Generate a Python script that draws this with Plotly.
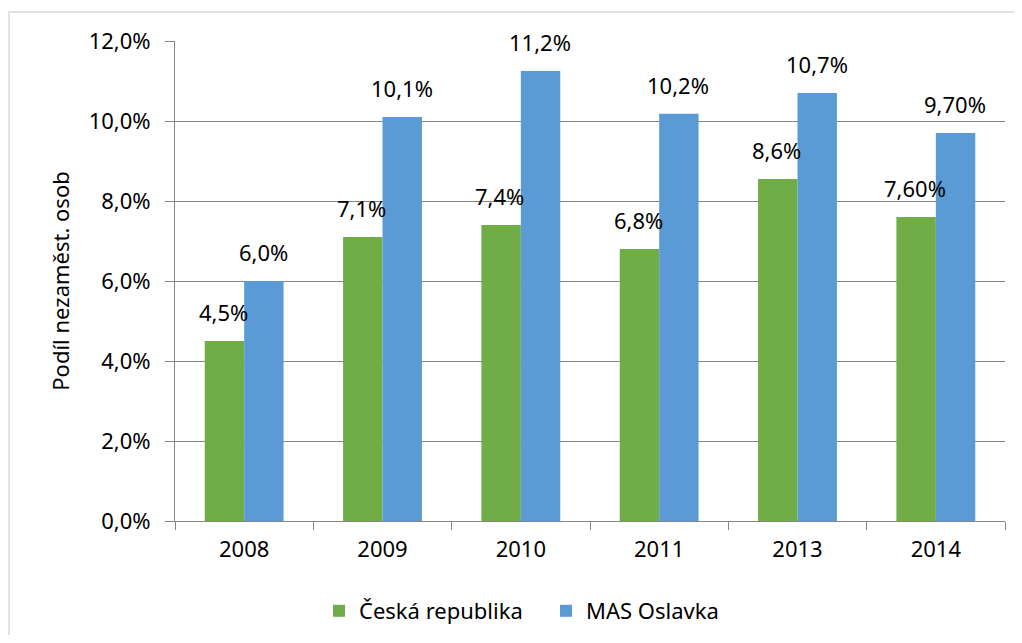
import plotly.graph_objects as go

years = ["2008", "2009", "2010", "2011", "2013", "2014"]
cr_values = [4.5, 7.1, 7.4, 6.8, 8.55, 7.6]
mas_values = [6.0, 10.1, 11.25, 10.18, 10.7, 9.7]
cr_labels = ["4,5%", "7,1%", "7,4%", "6,8%", "8,6%", "7,60%"]
mas_labels = ["6,0%", "10,1%", "11,2%", "10,2%", "10,7%", "9,70%"]
y_ticks = [0, 2, 4, 6, 8, 10, 12]
y_tick_text = ["0,0%", "2,0%", "4,0%", "6,0%", "8,0%", "10,0%", "12,0%"]

FONT = "Noto Sans, Open Sans, sans-serif"
GREEN = "#70AD47"
BLUE = "#5B9BD5"
FS = 22

fig = go.Figure()
fig.add_trace(go.Bar(x=years, y=cr_values, name="Česká republika",
                     marker=dict(color=GREEN, line=dict(width=0))))
fig.add_trace(go.Bar(x=years, y=mas_values, name="MAS Oslavka",
                     marker=dict(color=BLUE, line=dict(width=0))))

annotations = []
for i, yr in enumerate(years):
    annotations.append(dict(x=i, y=cr_values[i], text=cr_labels[i], xref="x", yref="y",
                            showarrow=False, xshift=-21, yshift=12, yanchor="bottom",
                            font=dict(family=FONT, size=FS, color="#000")))
    annotations.append(dict(x=i, y=mas_values[i], text=mas_labels[i], xref="x", yref="y",
                            showarrow=False, xshift=19, yshift=12, yanchor="bottom",
                            font=dict(family=FONT, size=FS, color="#000")))

# page body has an 8px margin; figure placed so plot area spans x 175-1005, y 41-521
W, H = 1006, 627
L, T = 167, 33
fig.update_layout(
    width=W, height=H,
    margin=dict(l=L, r=W - L - 830, t=T, b=H - T - 480, autoexpand=False),
    paper_bgcolor="white", plot_bgcolor="white",
    barmode="group", bargap=0.43, bargroupgap=0,
    font=dict(family=FONT, size=FS, color="#000"),
    showlegend=True,
    legend=dict(orientation="h", xref="container", yref="container",
                x=(546 - 8) / W, xanchor="center",
                y=1 - (611 - 8) / H, yanchor="middle",
                entrywidth=182, entrywidthmode="pixels",
                font=dict(family=FONT, size=FS, color="#000"),
                traceorder="normal"),
    annotations=annotations,
    shapes=[dict(type="rect", xref="paper", yref="paper",
                 x0=(9 - 175) / 830, x1=(1040 - 175) / 830,
                 y0=(521 - 660) / 480, y1=(521 - 12) / 480,
                 line=dict(color="#D9D9D9", width=1.5), layer="below")],
)

fig.update_xaxes(type="category", range=[-0.5, 5.5], showline=True, linecolor="#868686", linewidth=1,
                 ticks="outside", tickson="boundaries", ticklen=8, tickcolor="#868686",
                 ticklabelstandoff=9, automargin=False,
                 tickfont=dict(family=FONT, size=FS, color="#000"), showgrid=False)
fig.update_yaxes(range=[0, 12], tickvals=y_ticks, ticktext=y_tick_text,
                 showline=True, linecolor="#868686", linewidth=1,
                 ticks="outside", ticklen=9, tickcolor="#868686", ticklabelstandoff=10,
                 showgrid=True, gridcolor="#868686", gridwidth=1, zeroline=False,
                 automargin=False,
                 tickfont=dict(family=FONT, size=FS, color="#000"),
                 title=dict(text="Podíl nezaměst. osob", standoff=12,
                            font=dict(family=FONT, size=FS, color="#000")))

fig.write_html("out.html")
